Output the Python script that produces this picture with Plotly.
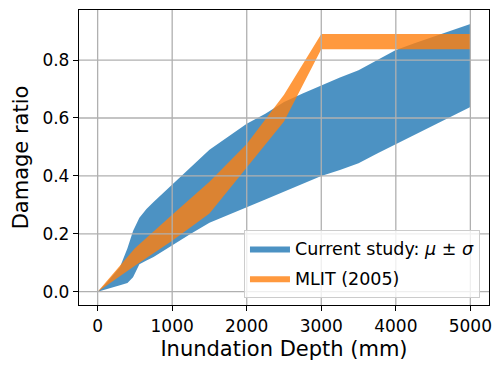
import plotly.graph_objects as go

# Current study band (mu - sigma, mu + sigma)
cs_depth = [0, 100, 200, 300, 400, 475, 560, 655, 750, 1000, 1250, 1500, 1750, 2000, 2250, 2500, 2750, 3000, 3250, 3500, 3750, 4000, 4250, 4500, 4750, 5000]
cs_upper = [0.0, 0.025, 0.055, 0.085, 0.15, 0.21, 0.255, 0.286, 0.31, 0.37, 0.43, 0.49, 0.535, 0.58, 0.615, 0.655, 0.685, 0.713, 0.74, 0.765, 0.80, 0.835, 0.858, 0.881, 0.903, 0.925]
cs_lower = [0.0, 0.007, 0.015, 0.022, 0.03, 0.05, 0.095, 0.108, 0.12, 0.159, 0.2, 0.238, 0.265, 0.292, 0.318, 0.345, 0.372, 0.40, 0.42, 0.444, 0.477, 0.51, 0.543, 0.575, 0.606, 0.638]

# MLIT (2005) band
ml_depth = [0, 500, 1000, 1500, 2000, 2500, 3000, 5000]
ml_upper = [0.0, 0.15, 0.266, 0.38, 0.51, 0.68, 0.89, 0.89]
ml_lower = [0.0, 0.09, 0.176, 0.27, 0.43, 0.588, 0.837, 0.837]

x_ticks = [0, 1000, 2000, 3000, 4000, 5000]
y_ticks = [0.0, 0.2, 0.4, 0.6, 0.8]
x_range = [-250, 5250]
y_range = [-0.046, 0.973]

fig = go.Figure()
fig.add_trace(go.Scatter(
    x=cs_depth + cs_depth[::-1], y=cs_upper + cs_lower[::-1],
    fill="toself", fillcolor="rgba(31,119,180,0.8)", mode="lines",
    line=dict(width=0, color="rgba(31,119,180,0.8)"), legendgroup="a",
    name="Current study: <i>μ</i> ± <i>σ</i>", hoverinfo="skip"))
fig.add_trace(go.Scatter(
    x=ml_depth + ml_depth[::-1], y=ml_upper + ml_lower[::-1],
    fill="toself", fillcolor="rgba(255,127,14,0.8)", mode="lines",
    line=dict(width=0, color="rgba(255,127,14,0.8)"), legendgroup="b",
    name="MLIT (2005)", hoverinfo="skip"))

shapes = []
for xv in x_ticks:
    shapes.append(dict(type="line", xref="x", yref="paper", x0=xv, x1=xv, y0=0, y1=1,
                       line=dict(color="#b0b0b0", width=1.3), layer="above"))
for yv in y_ticks:
    shapes.append(dict(type="line", xref="paper", yref="y", x0=0, x1=1, y0=yv, y1=yv,
                       line=dict(color="#b0b0b0", width=1.3), layer="above"))

font = "DejaVu Sans"
fig.update_layout(
    width=494, height=365,
    margin=dict(l=79, r=5, t=10, b=60),
    plot_bgcolor="white", paper_bgcolor="white",
    font=dict(family=font, size=17, color="black"),
    shapes=shapes,
    showlegend=True,
    legend=dict(x=0.978, y=0.025, xanchor="right", yanchor="bottom",
                bgcolor="rgba(255,255,255,0.8)", bordercolor="#cccccc", borderwidth=1,
                font=dict(size=17.5), tracegroupgap=4, itemwidth=40),
)
fig.update_xaxes(
    range=x_range, tickvals=x_ticks, ticktext=[str(v) for v in x_ticks], automargin=False,
    showgrid=False, zeroline=False, showline=True, mirror=True, linecolor="black", linewidth=1.3,
    ticks="outside", ticklen=5, tickwidth=1.3, tickcolor="black",
    title=dict(text="Inundation Depth (mm)", font=dict(size=21), standoff=6),
)
fig.update_yaxes(
    range=y_range, tickvals=y_ticks, ticktext=[f"{v:.1f}" for v in y_ticks], automargin=False,
    showgrid=False, zeroline=False, showline=True, mirror=True, linecolor="black", linewidth=1.3,
    ticks="outside", ticklen=5, tickwidth=1.3, tickcolor="black",
    title=dict(text="Damage ratio", font=dict(size=21), standoff=8),
)

fig.write_html("out.html", config={"displayModeBar": False},
               post_script="document.body.style.margin='0px';document.body.style.overflow='hidden';")
